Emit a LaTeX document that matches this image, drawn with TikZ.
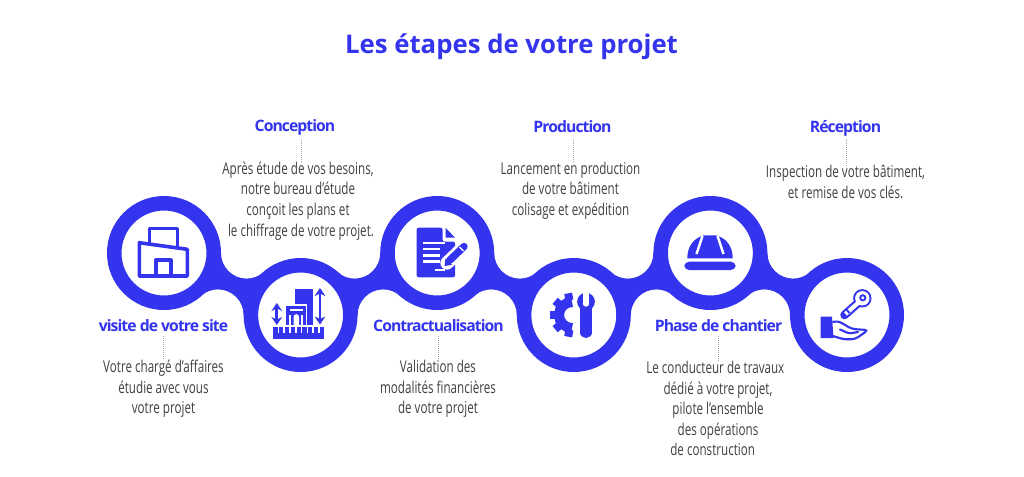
\documentclass[tikz,border=0pt]{standalone}
\usepackage{fontspec}
\usetikzlibrary{arrows.meta}
\setmainfont{Open Sans}
\newfontfamily\bodyf[FakeStretch=0.715]{Open Sans}
\newfontfamily\headf[LetterSpace=-6]{Open Sans}
\newfontfamily\titlef{Open Sans}
\definecolor{bleu}{HTML}{3434EE}
\definecolor{gris}{HTML}{404040}
\tikzset{
  ring/.style={circle,inner sep=0pt,minimum size=74.6pt,draw=bleu,line width=10.9pt,fill=white},
  head/.style={inner sep=0pt,anchor=base,text=bleu,font=\headf\bfseries\fontsize{11.8}{15}\selectfont},
  body/.style={inner sep=0pt,text=gris,align=center,font=\bodyf\fontsize{12.2}{15.45}\selectfont},
  tick/.style={draw=gray!70,line width=.5pt,densely dotted},
  ico/.style={draw=bleu,line width=2.7pt,line join=round},
  icf/.style={fill=bleu},
  linkfill/.style={fill=bleu},
  dbl/.style={bleu,line width=2.2pt,{Stealth[length=6pt,width=8pt]}-{Stealth[length=6pt,width=8pt]}},
}
\begin{document}
\begin{tikzpicture}[x=.75pt,y=-.75pt]
\useasboundingbox (0,0) rectangle (1024,476);
\fill[white] (0,0) rectangle (1024,476);
\node[inner sep=0pt,text=bleu,font=\titlef\bfseries\fontsize{19.3}{23}\selectfont] (title) at (511.5,47) {Les étapes de votre projet};
% rings
\node[ring] (c1) at (164,253) {};
\node[ring] (c2) at (300.6,315) {};
\node[ring] (c3) at (437.2,253) {};
\node[ring] (c4) at (573.8,315) {};
\node[ring] (c5) at (710.4,253) {};
\node[ring] (c6) at (847,315) {};
% links
\foreach \a in {c1,c3,c5}{
  \fill[linkfill,shift={(\a.center)}] (57,0) arc[start angle=180,end angle=49.1,radius=25.6] -- (79.6,62) arc[start angle=0,end angle=-130.9,radius=25.6] -- cycle;
}
\foreach \a in {c2,c4}{
  \fill[linkfill,shift={(\a.center)}] (57,0) arc[start angle=180,end angle=310.9,radius=25.6] -- (79.6,-62) arc[start angle=0,end angle=130.9,radius=25.6] -- cycle;
}
% headings
\node[head] (h1) at (163.5,331) {visite de votre site};
\node[head] (h2) at (295,131) {Conception};
\node[head] (h3) at (438.5,331) {Contractualisation};
\node[head] (h4) at (572.5,132.5) {Production};
\node[head] (h5) at (718.5,331) {Phase de chantier};
\node[head] (h6) at (845.5,132.5) {Réception};
% bodies
\node[body] (b1) at (163.5,389) {Votre chargé d’affaires\\étudie avec vous\\votre projet};
\node[body] (b2) at (298,201) {Après étude de vos besoins,\\notre bureau d’étude\\conçoit les plans et\\\hspace*{4.5pt}le chiffrage de votre projet.};
\node[body] (b3) at (438,389) {Validation des\\modalités financières\\de votre projet};
\node[body] (b4) at (570.5,190.5) {Lancement en production\\de votre bâtiment\\colisage et expédition};
\node[body] (b5) at (718,408.5) {\hspace*{-4pt}Le conducteur de travaux\\dédié à votre projet,\\pilote l’ensemble\\des opérations\\\hspace*{-8pt}de construction};
\node[body] (b6) at (845.5,182) {Inspection de votre bâtiment,\\et remise de vos clés.};
% ticks
\foreach \h/\b in {h1/b1,h3/b3,h5/b5}{
  \draw[tick] (\h.south) ++(0,5) coordinate (ta) -- (ta |- \b.north);
}
\draw[tick] (301,139) coordinate (t2) -- (t2 |- b2.north);
\draw[tick] (573.5,139) coordinate (t4) -- (t4 |- b4.north);
\draw[tick] (846,139) coordinate (t6) -- (t6 |- b6.north);
% icon 1: buildings
\draw[ico] (149.3,243.5) -- (149.3,228.3) -- (177.3,228.3) -- (177.3,248);
\draw[ico] (139.3,242.7) -- (187.3,249.3) -- (187.3,276) -- (139.3,276) -- cycle;
\draw[ico] (155.7,276) -- (155.7,260) -- (170.7,260) -- (170.7,276);
% icon 2: measures
\fill[icf] (273.3,333) rectangle (324,339.3);
\foreach \x in {273.3,279.1,284.9,290.7,296.5,302.3,308.1,313.9,319.7}{\fill[icf] (\x,327) rectangle ++(4.3,6.5);}
\fill[icf] (295,289) rectangle (312.5,325);
\fill[icf,draw=white,line width=1.2pt] (285.5,305) rectangle (306.5,325.5);
\fill[white] (289.5,309) rectangle (302.5,311);
\fill[white] (293.5,325.5) -- (293.5,317) arc[start angle=180,end angle=360,radius=2.8] -- (299,325.5) -- cycle;
\fill[white] (288.8,315) rectangle (291.3,326);
\fill[white] (300.8,315) rectangle (303.3,326);
\draw[dbl] (276.8,303) -- (276.8,325);
\draw[dbl] (320,288) -- (320,324.5);
% icon 3: document
\fill[icf,rounded corners=1.5pt] (416.7,227.7) -- (442.5,227.7) -- (442.5,241.5) -- (455,241.5) -- (455,277.3) -- (416.7,277.3) -- cycle;
\fill[icf] (445.5,227.7) -- (455,237.7) -- (445.5,237.7) -- cycle;
\foreach \ya/\xb in {243/445,249/440,255.5/440,261.5/440}{\draw[white,line width=1.6pt] (422.7,\ya) -- (\xb,\ya);}
\draw[white,line width=1.6pt] (435,270) -- (445,270);
\draw[white,line width=10pt,line cap=round] (447,263) -- (466,245);
\draw[bleu,line width=5.5pt,line cap=round] (449.5,260.5) -- (464,246.5);
\fill[bleu] (444.5,266) -- (445.5,258.5) -- (452,264.8) -- cycle;
\draw[white,line width=1pt] (459.5,247) -- (463.5,251);
% icon 4: gear and wrench
\draw[bleu,line width=7.5pt] (572,302) arc[start angle=-90,end angle=-270,radius=13];
\foreach \ang in {-100,-140,180,140,100}{
  \draw[bleu,line width=6pt] (572,315) ++(\ang:15) -- ++(\ang:7);
}
\fill[icf] (586,301.7) circle (8.9);
\draw[bleu,line width=8.3pt,line cap=round] (586,303) -- (586,332.5);
\fill[white] (582.8,291) rectangle (589.2,303.5);
\fill[white] (586,303.5) circle (3.2);
% icon 5: helmet
\fill[icf,rounded corners=3.6pt] (684.3,261.7) rectangle (735.7,270);
\fill[icf] (687.3,258.3) .. controls (687.3,246) and (694,238) .. (704,235.3) -- (716,235.3) .. controls (726,238) and (732.7,246) .. (732.7,258.3) -- cycle;
\draw[white,line width=1.8pt] (702.5,236) -- (696.5,254);
\draw[white,line width=1.8pt] (717.5,236) -- (723.5,254);
% icon 6: key and hand
\draw[bleu,line width=6.4pt,line cap=round] (858,303) -- (844.5,315);
\fill[icf] (862.3,298.3) circle (9.2);
\draw[white,line width=3.2pt] (858,303) -- (845.5,314);
\fill[white] (862.3,298.3) circle (7.2);
\draw[bleu,line width=1.4pt] (862.8,297.8) circle (2.6);
\draw[bleu,line width=1.5pt] (846.5,309.5) -- (849.5,313);
\fill[icf] (820.7,316.7) -- (832,316.7) -- (833.5,338) -- (820.7,338) -- cycle;
\draw[bleu,line width=1.6pt,rounded corners=3pt,line cap=round] (833,322) -- (838,320.7) -- (851.7,329) -- (868.3,330) -- (855,339.3) -- (843.3,339.3) -- (833,336);
\draw[bleu,line width=1.6pt,rounded corners=2pt,line cap=round] (840,329.5) -- (849,333.5) -- (858,332);
\end{tikzpicture}
\end{document}
